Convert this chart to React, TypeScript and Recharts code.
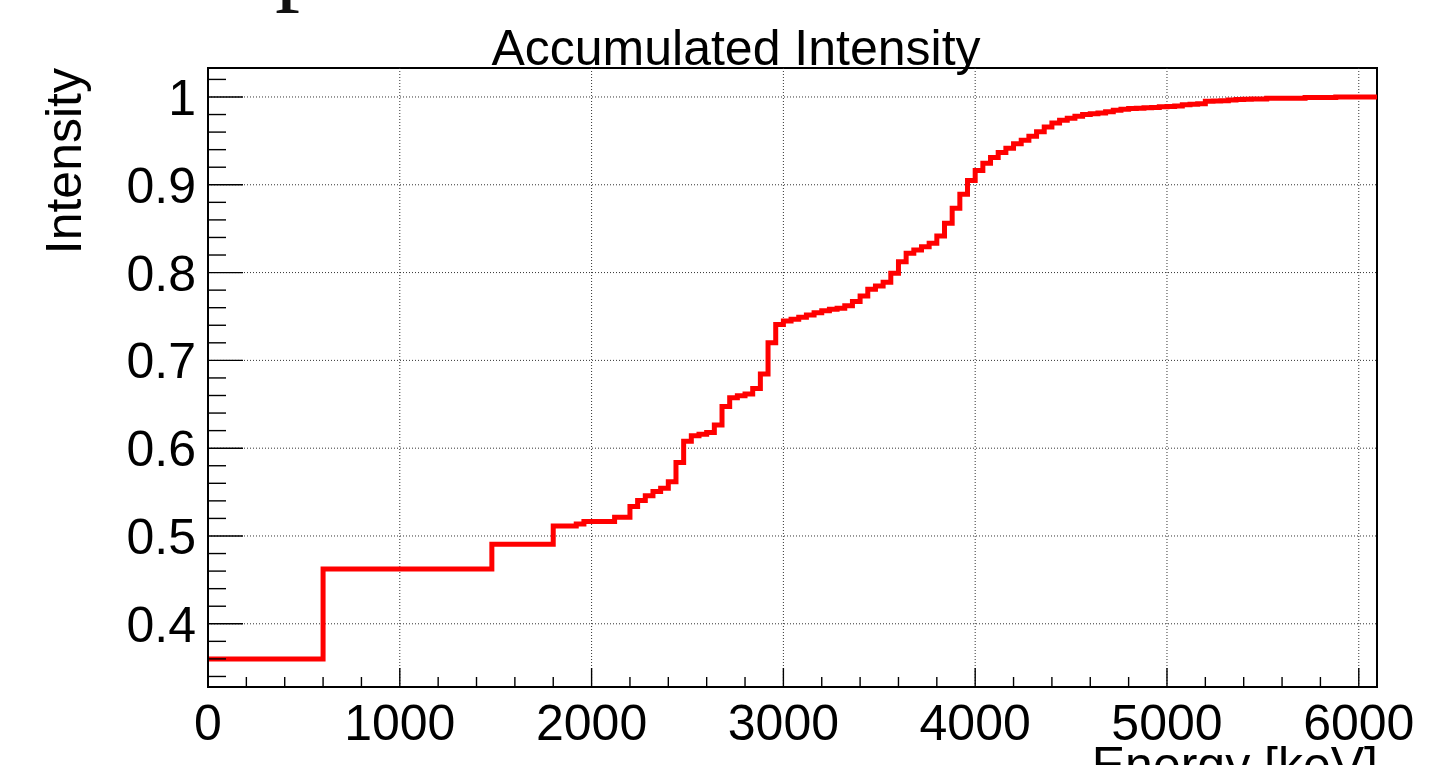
import React from "react";
import { LineChart, Line, XAxis, YAxis, ReferenceLine, ReferenceArea } from "recharts";

// Cumulative intensity histogram (40 keV bins): lower bin edge where the level changes, and the level.
const EDGES_LOW = [0, 600, 1480, 1800, 1920, 1960, 2120];
const LEVELS_LOW = [0.36, 0.4624, 0.4906, 0.5114, 0.5137, 0.5165, 0.5213];

const EDGES_2200 = [2200, 2240, 2280, 2320, 2360, 2400, 2440, 2480, 2520, 2560, 2600, 2640, 2680, 2720, 2760, 2800, 2840, 2880, 2920, 2960];
const LEVELS_2200 = [0.5337, 0.5405, 0.5458, 0.5508, 0.5545, 0.5619, 0.5838, 0.608, 0.6142, 0.6158, 0.618, 0.6264, 0.6475, 0.6573, 0.6596, 0.6617, 0.668, 0.6844, 0.72, 0.741];

const EDGES_3000 = [3000, 3040, 3080, 3120, 3160, 3200, 3240, 3280, 3320, 3360, 3400, 3440, 3480, 3520, 3560, 3600, 3640, 3680, 3720, 3760, 3800, 3840, 3880, 3920, 3960];
const LEVELS_3000 = [0.7449, 0.7468, 0.749, 0.7517, 0.7543, 0.7566, 0.7582, 0.7593, 0.7623, 0.767, 0.7733, 0.781, 0.7847, 0.789, 0.7992, 0.8124, 0.822, 0.8257, 0.8295, 0.8334, 0.8417, 0.8562, 0.8732, 0.8892, 0.905];

const EDGES_4000 = [4000, 4040, 4080, 4120, 4160, 4200, 4240, 4280, 4320, 4360, 4400, 4440, 4480, 4520, 4560, 4600, 4640, 4680, 4720, 4760, 4800, 4840, 4880, 4920, 4960];
const LEVELS_4000 = [0.9163, 0.9244, 0.931, 0.9367, 0.9416, 0.9468, 0.9506, 0.9552, 0.9605, 0.9658, 0.9704, 0.9735, 0.9757, 0.978, 0.9799, 0.981, 0.9818, 0.9833, 0.9848, 0.986, 0.9868, 0.9872, 0.9876, 0.988, 0.9888];

const EDGES_5000 = [5000, 5040, 5080, 5120, 5160, 5200, 5240, 5280, 5320, 5360, 5400, 5440, 5520, 5720, 5880, 6095];
const LEVELS_5000 = [0.9892, 0.9897, 0.9912, 0.9918, 0.9924, 0.995, 0.9955, 0.9958, 0.9965, 0.997, 0.9975, 0.9977, 0.9985, 0.9995, 1.0, 1.0];

const X_MAJOR = [0, 1000, 2000, 3000, 4000, 5000, 6000];
const Y_MAJOR = [0.4, 0.5, 0.6, 0.7, 0.8, 0.9, 1.0];
const X_MIN = 0;
const X_MAX = 6095;
const Y_MIN = 0.328;
const Y_MAX = 1.033;

const edges = [...EDGES_LOW, ...EDGES_2200, ...EDGES_3000, ...EDGES_4000, ...EDGES_5000];
const levels = [...LEVELS_LOW, ...LEVELS_2200, ...LEVELS_3000, ...LEVELS_4000, ...LEVELS_5000];
const data = edges.map((e, i) => ({ energy: e, intensity: levels[i] }));

// minor ticks: 200 keV on x, 0.02 on y
const xTicks: number[] = [];
for (let k = 0; k <= 30; k++) xTicks.push(k * 200);
const yTicks: number[] = [];
for (let k = 17; k <= 51; k++) yTicks.push(Math.round(k * 2) / 100);

const FONT = "'Liberation Sans', Arial, Helvetica, sans-serif";

const isMajor = (v: number, majors: number[]) => majors.some((m) => Math.abs(m - v) < 1e-6);

const XTick = (props: any) => {
  const { x, y, payload } = props;
  const v = payload.value;
  const major = isMajor(v, X_MAJOR);
  return (
    <g>
      <line x1={x} x2={x} y1={y} y2={y - (major ? 19 : 10)} stroke="#000" strokeWidth={1.4} />
      {major && (
        <text x={x} y={y + 53} textAnchor="middle" fontSize={50} fontFamily={FONT} fill="#000">
          {v}
        </text>
      )}
    </g>
  );
};

const YTick = (props: any) => {
  const { x, y, payload } = props;
  const v = payload.value;
  const major = isMajor(v, Y_MAJOR);
  return (
    <g>
      <line x1={x} x2={x + (major ? 35 : 18)} y1={y} y2={y} stroke="#000" strokeWidth={1.4} />
      {major && (
        <text x={x - 12} y={y + 18} textAnchor="end" fontSize={50} fontFamily={FONT} fill="#000">
          {Math.abs(v - 1) < 1e-6 ? "1" : v.toFixed(1)}
        </text>
      )}
    </g>
  );
};

export default function App() {
  return (
    <div style={{ position: "absolute", left: 0, top: 0, width: 1445, height: 765, background: "#fff", overflow: "hidden" }}>
      <LineChart width={1445} height={765} data={data} margin={{ top: 68, right: 68, bottom: 0, left: 0 }}>
        <XAxis
          type="number"
          dataKey="energy"
          domain={[X_MIN, X_MAX]}
          ticks={xTicks}
          interval={0}
          height={78}
          tickSize={0}
          tickMargin={0}
          tick={<XTick />}
          axisLine={{ stroke: "#000", strokeWidth: 2 }}
          allowDataOverflow
        />
        <YAxis
          type="number"
          domain={[Y_MIN, Y_MAX]}
          ticks={yTicks}
          interval={0}
          width={208}
          tickSize={0}
          tickMargin={0}
          tick={<YTick />}
          axisLine={{ stroke: "#000", strokeWidth: 2 }}
          allowDataOverflow
        />
        {X_MAJOR.filter((v) => v > 0).map((v) => (
          <ReferenceLine key={"gx" + v} x={v} stroke="#333" strokeWidth={1} strokeDasharray="1 2" />
        ))}
        {Y_MAJOR.map((v) => (
          <ReferenceLine key={"gy" + v} y={v} stroke="#333" strokeWidth={1} strokeDasharray="1 2" />
        ))}
        <ReferenceArea x1={X_MIN} x2={X_MAX} y1={Y_MIN} y2={Y_MAX} fill="none" stroke="#000" strokeWidth={2} />
        <Line
          type="stepAfter"
          dataKey="intensity"
          stroke="#ff0000"
          strokeWidth={5}
          strokeLinejoin="miter"
          strokeLinecap="butt"
          dot={false}
          activeDot={false}
          isAnimationActive={false}
        />
      </LineChart>
      <svg width={1445} height={765} style={{ position: "absolute", left: 0, top: 0, pointerEvents: "none" }}>
        <text x={275} y={-8} fontSize={100} fontFamily="'Liberation Serif', 'Times New Roman', serif" fill="#111">
          p
        </text>
        <text x={736} y={65} textAnchor="middle" fontSize={50} fontFamily={FONT} fill="#000">
          Accumulated Intensity
        </text>
        <text x={81} y={68} textAnchor="end" fontSize={50} fontFamily={FONT} fill="#000" transform="rotate(-90 81 68)">
          Intensity
        </text>
        <text x={1378} y={782} textAnchor="end" fontSize={50} fontFamily={FONT} fill="#000">
          Energy [keV]
        </text>
      </svg>
    </div>
  );
}
